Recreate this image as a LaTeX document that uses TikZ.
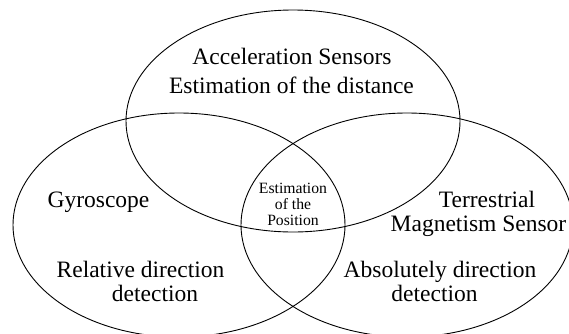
\documentclass[tikz,border=0pt]{standalone}
\usepackage{fontspec}
\setmainfont{Liberation Serif}
\begin{document}
\begin{tikzpicture}[x=1pt,y=-1pt,
  ring/.style={line width=0.9pt},
  lbl/.style={anchor=base,inner sep=0pt,font=\fontsize{23.5}{28}\selectfont},
  smalllbl/.style={anchor=base,inner sep=0pt,font=\fontsize{15.7}{18}\selectfont}]
\useasboundingbox (0,0) rectangle (569,333);
% the three overlapping sets
\draw[ring] (293,121) ellipse [x radius=167, y radius=111];
\draw[ring] (179,225) ellipse [x radius=166, y radius=112];
\draw[ring] (407,225) ellipse [x radius=166, y radius=112];
% top set
\node[lbl] (acc1) at (292,64) {Acceleration Sensors};
\node[lbl] (acc2) at (291.5,93) {Estimation of the distance};
% left set
\node[lbl] (gyro) at (98.5,207) {Gyroscope};
\node[lbl] (rel1) at (140.5,277) {Relative direction};
\node[lbl] (rel2) at (155,301) {detection};
% right set
\node[lbl] (ter1) at (487,207) {Terrestrial};
\node[lbl] (ter2) at (478.5,231) {Magnetism Sensor};
\node[lbl] (abs1) at (440,277) {Absolutely direction};
\node[lbl] (abs2) at (434.5,301) {detection};
% common intersection
\node[smalllbl] (pos1) at (293,193) {Estimation};
\node[smalllbl] (pos2) at (293,209.5) {of the};
\node[smalllbl] (pos3) at (293,225) {Position};
\end{tikzpicture}
\end{document}
